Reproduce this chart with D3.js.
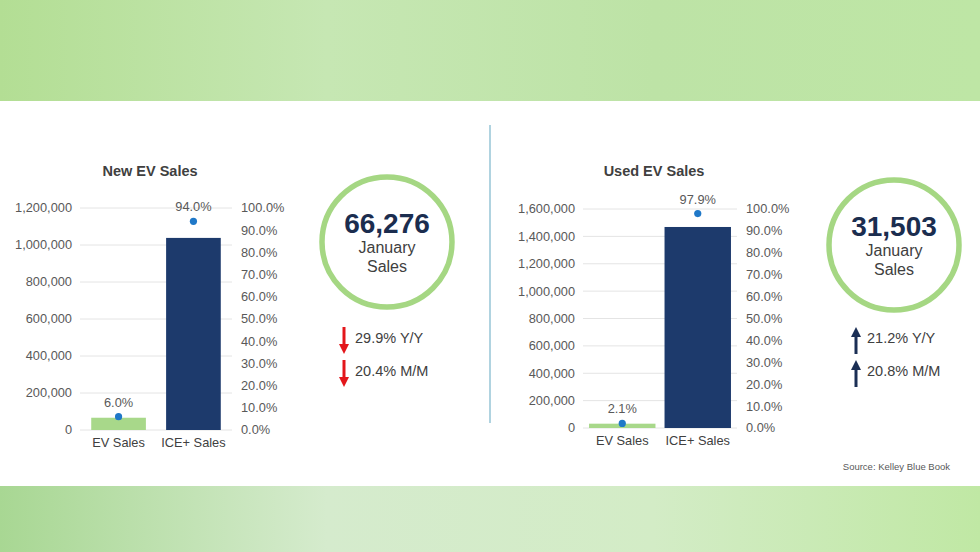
<!doctype html>
<meta charset="utf-8">

<style>
  body { margin: 0; background: #fff; }
  svg { display: block; font-family: "Liberation Sans", Arial, sans-serif; }
  .tick-label { fill: #595959; font-size: 12.8px; }
  .title { fill: #404040; font-size: 14.5px; font-weight: bold; text-anchor: middle; }
  .cat { fill: #404040; font-size: 12.8px; text-anchor: middle; }
  .pct { fill: #595959; font-size: 12.8px; text-anchor: middle; }
  .change { fill: #404040; font-size: 14.5px; }
</style>

<svg id="chart" width="980" height="552"></svg>

<script src="https://d3js.org/d3.v7.min.js"></script>

<script>
  // data
  const categories = ["EV Sales", "ICE+ Sales"];

  const newSales = [66276, 1038324];
  const newShare = [6.0, 94.0];
  const newMax = 1200000;
  const newTotal = "66,276";
  const newChanges = [29.9, 20.4];

  const usedSales = [31503, 1468650];
  const usedShare = [2.1, 97.9];
  const usedMax = 1600000;
  const usedTotal = "31,503";
  const usedChanges = [21.2, 20.8];

  const changeLabels = ["Y/Y", "M/M"];
  const shareTicks = [0, 10, 20, 30, 40, 50, 60, 70, 80, 90, 100];

  let svg = d3.select("#chart");

  // background bands
  let defs = svg.append("defs");
  function band(id, stops) {
    let g = defs.append("linearGradient").attr("id", id);
    stops.forEach((c, i) => g.append("stop")
      .attr("offset", i / (stops.length - 1)).attr("stop-color", c));
  }
  band("topBand", ["#b3de94", "#c6e7b3", "#bde3a6", "#bee6a5"]);
  band("botBand", ["#a8d793", "#d5ebcd", "#d3ecc6", "#c0e8a4"]);
  svg.append("rect").attr("x", 0).attr("y", 0).attr("width", 980).attr("height", 101)
    .attr("fill", "url(#topBand)");
  svg.append("rect").attr("x", 0).attr("y", 486).attr("width", 980).attr("height", 66)
    .attr("fill", "url(#botBand)");

  // divider
  svg.append("line").attr("x1", 490).attr("x2", 490).attr("y1", 125).attr("y2", 423)
    .attr("stroke", "#86bccf").attr("stroke-width", 1.3);

  function drawChart(c) {
    let g = svg.append("g");

    let x = d3.scaleBand().domain(categories).range([c.x0, c.x1])
      .paddingInner(c.padIn).paddingOuter(c.padOut);
    let y = d3.scaleLinear().domain([0, c.max]).range([c.yBottom, c.yTop]);
    let yPct = d3.scaleLinear().domain([0, 100]).range([c.yBottom, c.yTop]);

    g.append("text").attr("class", "title").attr("x", c.titleX).attr("y", 176).text(c.title);

    // gridlines + left labels
    let ticks = y.ticks(c.max / 200000);
    g.selectAll(".grid").data(ticks).enter().append("line")
      .attr("x1", c.x0).attr("x2", c.x1)
      .attr("y1", d => y(d)).attr("y2", d => y(d))
      .attr("stroke", "#e4e4e4").attr("stroke-width", 1);
    g.selectAll(".ly").data(ticks).enter().append("text")
      .attr("class", "tick-label")
      .attr("x", c.x0 - 8).attr("y", d => y(d)).attr("dy", "0.35em")
      .attr("text-anchor", "end")
      .text(d3.format(","));

    // right percent labels
    g.selectAll(".ry").data(shareTicks).enter().append("text")
      .attr("class", "tick-label")
      .attr("x", c.x1 + 9).attr("y", d => yPct(d)).attr("dy", "0.35em")
      .text(d => d.toFixed(1) + "%");

    // bars
    g.selectAll(".bar").data(c.sales).enter().append("rect")
      .attr("x", (d, i) => x(categories[i]))
      .attr("width", x.bandwidth())
      .attr("y", d => y(d))
      .attr("height", d => y(0) - y(d))
      .attr("fill", (d, i) => i === 0 ? "#a8d88a" : "#1d3a6c");

    // share dots + labels
    g.selectAll(".dot").data(c.share).enter().append("circle")
      .attr("cx", (d, i) => x(categories[i]) + x.bandwidth() / 2)
      .attr("cy", d => yPct(d))
      .attr("r", 3.6)
      .attr("fill", "#1f78c8");
    g.selectAll(".pl").data(c.share).enter().append("text")
      .attr("class", "pct")
      .attr("x", (d, i) => x(categories[i]) + x.bandwidth() / 2)
      .attr("y", d => yPct(d) - 10)
      .text(d => d.toFixed(1) + "%");

    // categories
    g.selectAll(".cat").data(categories).enter().append("text")
      .attr("class", "cat")
      .attr("x", d => x(d) + x.bandwidth() / 2)
      .attr("y", c.yBottom + 17)
      .text(d => d);

    // ring with total
    g.append("circle").attr("cx", c.cx).attr("cy", c.cy).attr("r", 65)
      .attr("fill", "none").attr("stroke", "#a5d783").attr("stroke-width", 5.5);
    g.append("text").attr("x", c.cx).attr("y", c.cy - 9)
      .attr("text-anchor", "middle").attr("font-size", 28).attr("font-weight", "bold")
      .attr("fill", "#1b2d4f").text(c.total);
    g.append("text").attr("x", c.cx).attr("y", c.cy + 11)
      .attr("text-anchor", "middle").attr("font-size", 16).attr("fill", "#404040").text("January");
    g.append("text").attr("x", c.cx).attr("y", c.cy + 29.5)
      .attr("text-anchor", "middle").attr("font-size", 16).attr("fill", "#404040").text("Sales");

    // change arrows
    c.changes.forEach((v, i) => {
      let top = 327 + i * 33, bot = top + 27, ax = c.arrowX;
      if (c.up) {
        g.append("line").attr("x1", ax).attr("x2", ax).attr("y1", top + 8).attr("y2", bot)
          .attr("stroke", c.arrowColor).attr("stroke-width", 3);
        g.append("path").attr("d", `M${ax - 5},${top + 10}L${ax},${top}L${ax + 5},${top + 10}Z`)
          .attr("fill", c.arrowColor);
      } else {
        g.append("line").attr("x1", ax).attr("x2", ax).attr("y1", top).attr("y2", bot - 8)
          .attr("stroke", c.arrowColor).attr("stroke-width", 3);
        g.append("path").attr("d", `M${ax - 5},${bot - 10}L${ax},${bot}L${ax + 5},${bot - 10}Z`)
          .attr("fill", c.arrowColor);
      }
      g.append("text").attr("class", "change")
        .attr("x", ax + 11).attr("y", top + 11).attr("dy", "0.35em")
        .text(v.toFixed(1) + "% " + changeLabels[i]);
    });
  }

  drawChart({
    title: "New EV Sales", titleX: 150,
    sales: newSales, share: newShare, max: newMax, total: newTotal, changes: newChanges,
    x0: 80, x1: 232, yTop: 208, yBottom: 430, padIn: 0.27, padOut: 0.15,
    cx: 387, cy: 242, arrowX: 344, up: false, arrowColor: "#e3161b"
  });

  drawChart({
    title: "Used EV Sales", titleX: 654,
    sales: usedSales, share: usedShare, max: usedMax, total: usedTotal, changes: usedChanges,
    x0: 583, x1: 737, yTop: 209, yBottom: 428, padIn: 0.12, padOut: 0.08,
    cx: 894, cy: 245, arrowX: 856, up: true, arrowColor: "#1b2f55"
  });

  svg.append("text").attr("x", 950).attr("y", 470).attr("text-anchor", "end")
    .attr("font-size", 9.5).attr("fill", "#595959").text("Source: Kelley Blue Book");
</script>
